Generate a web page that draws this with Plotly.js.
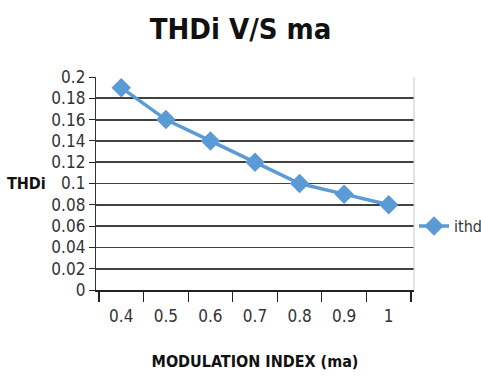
<!DOCTYPE html>
<html>
<head>
<meta charset="utf-8">
<script src="https://cdn.plot.ly/plotly-3.0.1.min.js"></script>
<style>
  html, body { margin: 0; padding: 0; background: #fff; }
  #chart { width: 481px; height: 379px; }
</style>
</head>
<body>
<div id="chart"></div>
<script>
// Modulation index categories and the current THD measured at each one
const modulationIndex = ['0.4', '0.5', '0.6', '0.7', '0.8', '0.9', '1'];
const ithd = [0.19, 0.16, 0.14, 0.12, 0.10, 0.09, 0.08];
const yTicks = [0, 0.02, 0.04, 0.06, 0.08, 0.1, 0.12, 0.14, 0.16, 0.18, 0.2];

const FONT = '"DejaVu Sans Condensed", "DejaVu Sans", sans-serif';

const trace = {
  x: modulationIndex,
  y: ithd,
  type: 'scatter',
  mode: 'lines+markers',
  name: 'ithd',
  line: { color: '#5B9BD5', width: 3.5 },
  marker: { symbol: 'diamond', size: 15, color: '#5B9BD5' }
};

const layout = {
  width: 481,
  height: 379,
  margin: { l: 96, r: 67, t: 77, b: 89, autoexpand: false },
  paper_bgcolor: '#fff',
  plot_bgcolor: '#fff',
  font: { family: FONT, color: '#222', size: 16 },
  title: {
    text: '<b>THDi V/S ma</b>',
    font: { family: FONT, size: 29, color: '#111' },
    x: 0.5, xanchor: 'center',
    y: 0.925, yanchor: 'middle'
  },
  xaxis: {
    type: 'category',
    tickson: 'boundaries',
    ticks: 'outside',
    ticklen: 10,
    tickcolor: '#222',
    tickwidth: 1.2,
    ticklabelstandoff: 10,
    showgrid: false,
    showline: true,
    linecolor: '#222',
    linewidth: 1.5,
    tickfont: { family: FONT, size: 17, color: '#333' },
    title: {
      text: '<b>MODULATION INDEX (ma)</b>',
      font: { family: FONT, size: 16, color: '#111' },
      standoff: 31
    },
    automargin: false,
    zeroline: false
  },
  yaxis: {
    range: [0, 0.2],
    tickvals: yTicks,
    ticktext: yTicks.map(v => String(v)),
    ticks: 'outside',
    ticklen: 6,
    tickcolor: '#222',
    showgrid: true,
    gridcolor: '#404040',
    gridwidth: 1.8,
    showline: true,
    linecolor: '#333',
    linewidth: 1.2,
    zeroline: false,
    tickfont: { family: FONT, size: 17, color: '#333' },
    automargin: false
  },
  annotations: [
    {
      text: '<b>THDi</b>',
      xref: 'paper', yref: 'paper',
      x: -0.15, xanchor: 'right',
      y: 0.5, yanchor: 'middle',
      showarrow: false,
      font: { family: FONT, size: 16, color: '#111' }
    }
  ],
  showlegend: true,
  legend: {
    x: 1.0, xanchor: 'left',
    y: 0.3, yanchor: 'middle',
    font: { family: FONT, size: 16, color: '#333' },
    itemwidth: 30,
    bgcolor: 'rgba(0,0,0,0)'
  },
  shapes: [
    {
      type: 'line', xref: 'paper', yref: 'paper',
      x0: 1, x1: 1, y0: 0, y1: 1,
      line: { color: '#c8c8c8', width: 1 }
    }
  ]
};

Plotly.newPlot('chart', [trace], layout, { displayModeBar: false, staticPlot: true });
</script>
</body>
</html>
